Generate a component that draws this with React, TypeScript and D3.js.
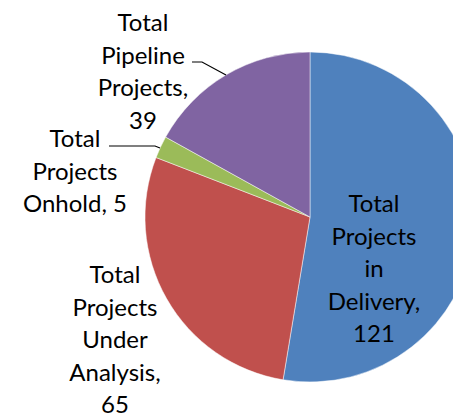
import React, { useEffect, useRef } from 'react';
import * as d3 from 'd3';

// chart data
const categories = ['Total Projects in Delivery', 'Total Projects Under Analysis', 'Total Projects Onhold', 'Total Pipeline Projects'];
const values = [121, 65, 5, 39];
const colors = ['#4F81BD', '#C0504D', '#9BBB59', '#8064A2'];
const labelLines = [
  ['Total', 'Projects', 'in', 'Delivery,', '121'],
  ['Total', 'Projects', 'Under', 'Analysis,', '65'],
  ['Total', 'Projects', 'Onhold, 5'],
  ['Total', 'Pipeline', 'Projects,', '39'],
];

// label layout: center x and first baseline y, plus optional leader line
const labelLayout = [
  { x: 374, y: 212, leader: null },
  { x: 115, y: 283, leader: null },
  { x: 75, y: 147, leader: [[109, 146], [155, 146], [160, 148]] },
  { x: 143, y: 31, leader: [[192, 62], [202, 62], [226, 75]] },
];

const App = () => {
  const ref = useRef<SVGSVGElement | null>(null);

  useEffect(() => {
    const width = 453;
    const height = 414;
    const cx = 310;
    const cy = 217;
    const radius = 165;
    const lineH = 32.5;

    const svg = d3.select(ref.current);
    svg.selectAll('*').remove();
    svg.attr('width', width).attr('height', height);

    svg.append('rect').attr('width', width).attr('height', height).attr('fill', '#ffffff');

    const data = categories.map((c, i) => ({ name: c, value: values[i], i }));
    const pie = d3.pie<any>().value((d) => d.value).sort(null);
    const arc = d3.arc<any>().innerRadius(0).outerRadius(radius);

    const g = svg.append('g').attr('transform', `translate(${cx},${cy})`);
    g.selectAll('path')
      .data(pie(data))
      .enter()
      .append('path')
      .attr('d', arc)
      .attr('fill', (d) => colors[d.data.i])
      .attr('stroke', '#ffffff')
      .attr('stroke-opacity', 0.6)
      .attr('stroke-width', 0.8);

    // leader lines
    labelLayout.forEach((l) => {
      if (!l.leader) return;
      svg.append('path')
        .attr('d', d3.line()(l.leader as [number, number][]))
        .attr('fill', 'none')
        .attr('stroke', '#000000')
        .attr('stroke-width', 1.2);
    });

    // labels
    labelLines.forEach((lines, i) => {
      const l = labelLayout[i];
      const t = svg.append('text')
        .attr('text-anchor', 'middle')
        .style('font-family', 'Lato, "Open Sans", sans-serif')
        .style('font-size', '24px')
        .style('fill', '#000000');
      lines.forEach((s, j) => {
        t.append('tspan').attr('x', l.x).attr('y', l.y + j * lineH).text(s);
      });
    });
  }, []);

  return (
    <div style={{ position: 'absolute', left: 0, top: 0, width: 453, height: 414, overflow: 'hidden' }}>
      <svg ref={ref} style={{ display: 'block' }} />
    </div>
  );
};

export default App;
